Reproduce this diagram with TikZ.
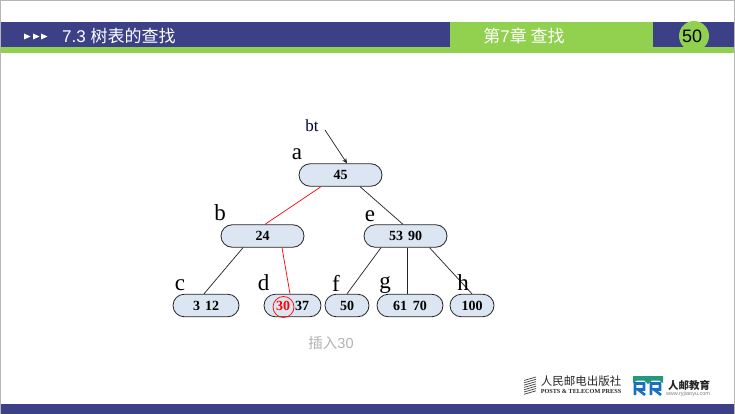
\documentclass[tikz,border=0pt]{standalone}
\usepackage{fontspec}
\setmainfont{Liberation Sans}
\newfontfamily\serifo{Liberation Serif}
\newfontfamily\cjk{Noto Sans CJK SC}
\usetikzlibrary{shapes.misc,calc,arrows.meta}
\definecolor{navy}{HTML}{3B4087}
\definecolor{leaf}{HTML}{92D14F}
\definecolor{nodefill}{HTML}{DCE6F2}
\definecolor{frameg}{HTML}{B5B5B5}
\definecolor{edgeg}{HTML}{222222}
\definecolor{logoteal}{HTML}{1F9A7C}
\definecolor{logoblue}{HTML}{1B6FC0}
\tikzset{
  x=1pt,y=-1pt,
  key/.style={rounded rectangle,draw=black!85,fill=nodefill,line width=0.8pt,inner sep=0pt,minimum height=22.5pt,font=\serifo\bfseries\fontsize{14}{14}\selectfont},
  big/.style={key,minimum width=83pt},
  tag/.style={inner sep=0pt,font=\serifo\fontsize{23}{23}\selectfont},
  link/.style={draw=edgeg,line width=0.7pt},
  hot/.style={draw=red,line width=0.7pt},
  head/.style={inner sep=0pt,text=white,anchor=west,font=\fontsize{17}{17}\selectfont},
}
\begin{document}
\begin{tikzpicture}
\useasboundingbox (0,0) rectangle (735,414);
\fill[white] (0,0) rectangle (735,414);
% frame
\fill[frameg] (0,0) rectangle (735,1.5);
\fill[frameg] (0,0) rectangle (1,414);
\fill[frameg] (733.5,0) rectangle (735,414);
% bands
\fill[navy] (1,22) rectangle (733.5,47);
\fill[leaf] (1,47) rectangle (733.5,53);
\fill[leaf] (450,22) rectangle (653,53);
\fill[navy] (1,404) rectangle (733.5,414);
\fill[leaf] (694,36) circle[radius=15];
% triangles
\foreach \t in {24,33,41}
  \fill[white] (\t,33.5) -- (\t+6.5,36.5) -- (\t,39.5) -- cycle;
\node[head] (title) at (62,36.5) {7.3 {\cjk 树表的查找}};
\node[head,anchor=center] (chapter) at (524,35.5) {{\cjk 第}7{\cjk 章 查找}};
\node[inner sep=0pt,font=\fontsize{18}{18}\selectfont] (page) at (692,36) {50};
% tree
\node[big] (a) at (340.5,175) {45};
\node[big] (b) at (262.5,236) {24};
\node[big] (e) at (405.5,236) {53\hspace{5pt}90};
\node[key,minimum width=66pt] (c) at (206,305.5) {3\hspace{5pt}12};
\node[key,minimum width=57pt] (d) at (292.5,305.5) {};
\node[key,minimum width=44pt] (f) at (347,305.5) {50};
\node[key,minimum width=66pt] (g) at (410,305.5) {61\hspace{6pt}70};
\node[key,minimum width=44pt] (h) at (472,305.5) {100};
\node[inner sep=0pt,text=red,font=\serifo\bfseries\fontsize{14}{14}\selectfont] (n30) at (283,305.5) {30};
\node[inner sep=0pt,font=\serifo\bfseries\fontsize{14}{14}\selectfont] (n37) at (302,305.5) {37};
\node[circle,draw=red,line width=0.7pt,minimum size=21pt,inner sep=0pt] (mark) at (283.5,307) {};
% connectors
\draw[hot]  ($(a.south)+(-19.5,0)$) -- ($(b.north)+(2.5,0)$);
\draw[link] ($(a.south)+(19.5,0)$) -- ($(e.north)+(-2.5,0)$);
\draw[link] ($(b.south)+(-19.5,0)$) -- ($(c.north)+(-2,0)$);
\draw[hot]  ($(b.south)+(19.5,0)$) -- ($(d.north)+(-2.5,0)$);
\draw[link] ($(e.south)+(-24.5,0)$) -- (f.north);
\draw[link] ($(e.south)+(1.5,0)$) -- ($(g.north)+(-3,0)$);
\draw[link] ($(e.south)+(24,0)$) -- (h.north);
% labels
\node[inner sep=0pt,font=\serifo\fontsize{17}{17}\selectfont,text=black!80!blue] (bt) at (312,126) {bt};
\coordinate (btend) at (325,130);
\draw[link,-{Stealth[length=5pt,width=4.5pt]}] (btend) -- ($(a.north)+(6.5,0)$);
\node[tag] (la) at (297,154.5) {a};
\node[tag] (lb) at (220,213) {b};
\node[tag] (lc) at (180,285) {c};
\node[tag] (ld) at (263.5,283) {d};
\node[tag] (le) at (370,216) {e};
\node[tag] (lf) at (336,283) {f};
\node[tag] (lg) at (385,285) {g};
\node[tag] (lh) at (463,283) {h};
\node[inner sep=0pt,text=black!30,font=\fontsize{14.5}{14.5}\selectfont] (cap) at (331,343) {{\cjk 插入}30};
% publisher logo
\begin{scope}[line width=0.7pt,draw=black!75]
\foreach \k in {0,...,6}
  \draw (524,380.5+\k*2.3) -- (536,377+\k*2.3);
\end{scope}
\node[inner sep=0pt,font=\cjk\fontsize{11.5}{11.5}\selectfont,text=black!85] (press) at (581,381) {人民邮电出版社};
\node[inner sep=0pt,font=\serifo\bfseries\fontsize{6.2}{6.2}\selectfont,text=black!85] (presse) at (581,391.5) {POSTS \& TELECOM PRESS};
\fill[logoteal] (633,376) -- (663,376) -- (663,383) -- (659,380.5) -- (652,380.5) -- (648,384) -- (644,380.5) -- (637,380.5) -- (633,383) -- cycle;
\draw[logoblue,line width=2.6pt] (635,395) -- (635,383.5) -- (644,383.5) -- (644,389.5) -- (638,389.5) -- (645,395);
\draw[logoblue,line width=2.6pt] (651,395) -- (651,383.5) -- (660,383.5) -- (660,389.5) -- (654,389.5) -- (661,395);
\node[inner sep=0pt,font=\cjk\bfseries\fontsize{10.5}{10.5}\selectfont,text=black!85] (edu) at (689,385) {人邮教育};
\node[inner sep=0pt,font=\fontsize{5.5}{5.5}\selectfont,text=black!50] (web) at (688,394) {www.ryjiaoyu.com};
\end{tikzpicture}
\end{document}
